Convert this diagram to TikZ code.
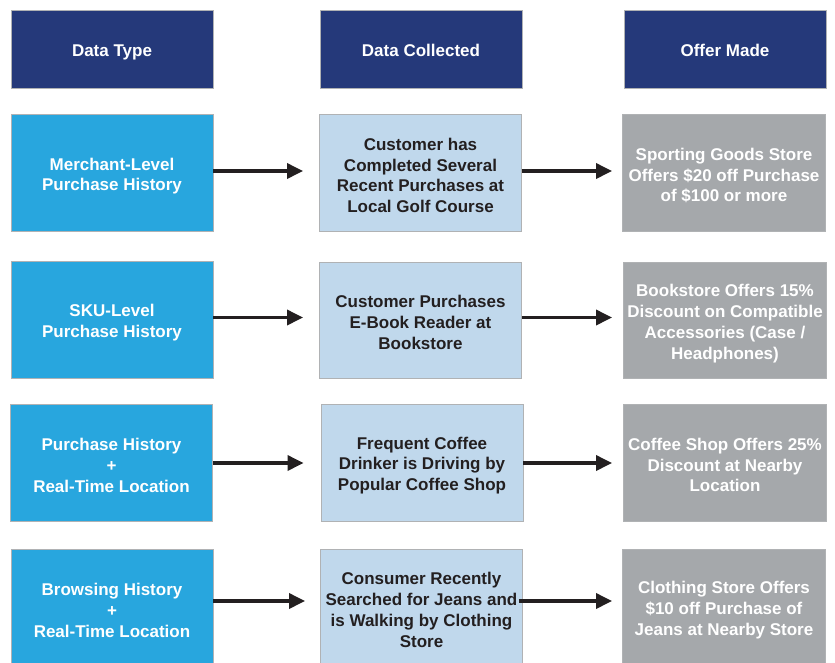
\documentclass[tikz,border=0pt]{standalone}
\usepackage{fontspec}
\setmainfont{Liberation Sans}
\usetikzlibrary{arrows.meta}
\definecolor{navy}{RGB}{37,57,122}
\definecolor{brightblue}{RGB}{40,166,222}
\definecolor{paleblue}{RGB}{192,216,236}
\definecolor{midgray}{RGB}{165,168,171}
\definecolor{edgegray}{RGB}{176,178,180}
\definecolor{inkdark}{RGB}{35,31,32}
\tikzset{
  cell/.style={draw=edgegray, line width=0.9pt, minimum width=202pt, inner sep=0pt},
  txt/.style={align=center, inner sep=0pt, yshift=-2.5pt,
    font=\fontsize{17}{20.8}\selectfont\bfseries},
  wtxt/.style={txt, text=white},
  dtxt/.style={txt, text=inkdark},
  htxt/.style={wtxt, text height=12.5pt, text depth=4pt, yshift=-0.5pt},
  headbox/.style={cell, fill=navy, minimum height=78pt},
  typebox/.style={cell, fill=brightblue, minimum height=117pt},
  databox/.style={cell, fill=paleblue, minimum height=117pt},
  offerbox/.style={cell, fill=midgray, minimum width=203pt, minimum height=117pt},
  arr/.style={draw=inkdark, line width=3.4pt, -{Triangle[length=16pt,width=15pt]}}
}
\begin{document}
\begin{tikzpicture}[x=1pt,y=-1pt]
\useasboundingbox (0,0) rectangle (835,662);
\clip (0,0) rectangle (835,662);
% headers
\node[headbox, label={[htxt]center:Data Type}] (h1) at (112,49) {};
\node[headbox, label={[htxt]center:Data Collected}] (h2) at (421,49.5) {};
\node[headbox, label={[htxt]center:Offer Made}] (h3) at (725,49.5) {};
% row 1
\node[typebox, label={[wtxt, yshift=-1pt]center:{Merchant-Level\\Purchase History}}] (a1) at (112,172.5) {};
\node[databox, label={[dtxt]center:{Customer has\\Completed Several\\Recent Purchases at\\Local Golf Course}}] (b1) at (420.5,173) {};
\node[offerbox, label={[wtxt]center:{Sporting Goods Store\\Offers \$20 off Purchase\\of \$100 or more}}] (c1) at (724,173) {};
% row 2
\node[typebox, label={[wtxt]center:{SKU-Level\\Purchase History}}] (a2) at (112,320) {};
\node[databox, minimum height=116pt, label={[dtxt]center:{Customer Purchases\\E-Book Reader at\\Bookstore}}] (b2) at (420.5,320) {};
\node[offerbox, minimum height=116pt, label={[wtxt, yshift=-1pt]center:{Bookstore Offers 15\%\\Discount on Compatible\\Accessories (Case /\\Headphones)}}] (c2) at (725,320) {};
% row 3
\node[typebox, label={[wtxt]center:{Purchase History\\+\\Real-Time Location}}] (a3) at (111.5,463) {};
\node[databox, label={[dtxt]center:{Frequent Coffee\\Drinker is Driving by\\Popular Coffee Shop}}] (b3) at (422,463) {};
\node[offerbox, label={[wtxt]center:{Coffee Shop Offers 25\%\\Discount at Nearby\\Location}}] (c3) at (725,462.5) {};
% row 4
\node[typebox, label={[wtxt]center:{Browsing History\\+\\Real-Time Location}}] (a4) at (112,608) {};
\node[databox, label={[dtxt]center:{Consumer Recently\\Searched for Jeans and\\is Walking by Clothing\\Store}}] (b4) at (421.5,607.5) {};
\node[offerbox, label={[wtxt]center:{Clothing Store Offers\\\$10 off Purchase of\\Jeans at Nearby Store}}] (c4) at (724,607.5) {};
% arrows
\draw[arr, shorten >=16pt] (a1.east |- 0,171) -- (b1.west |- 0,171);
\draw[arr, shorten >=10pt] (b1.east |- 0,171) -- (c1.west |- 0,171);
\draw[arr, shorten >=16pt] (a2.east |- 0,317.5) -- (b2.west |- 0,317.5);
\draw[arr, shorten >=11pt] (b2.east |- 0,317.5) -- (c2.west |- 0,317.5);
\draw[arr, shorten >=17pt] (a3.east |- 0,463) -- (b3.west |- 0,463);
\draw[arr, shorten >=11pt] (b3.east |- 0,463) -- (c3.west |- 0,463);
\draw[arr, shorten >=15pt] (a4.east |- 0,601) -- (b4.west |- 0,601);
\draw[arr, shorten <=-4pt, shorten >=10pt] (b4.east |- 0,601) -- (c4.west |- 0,601);
\end{tikzpicture}
\end{document}
